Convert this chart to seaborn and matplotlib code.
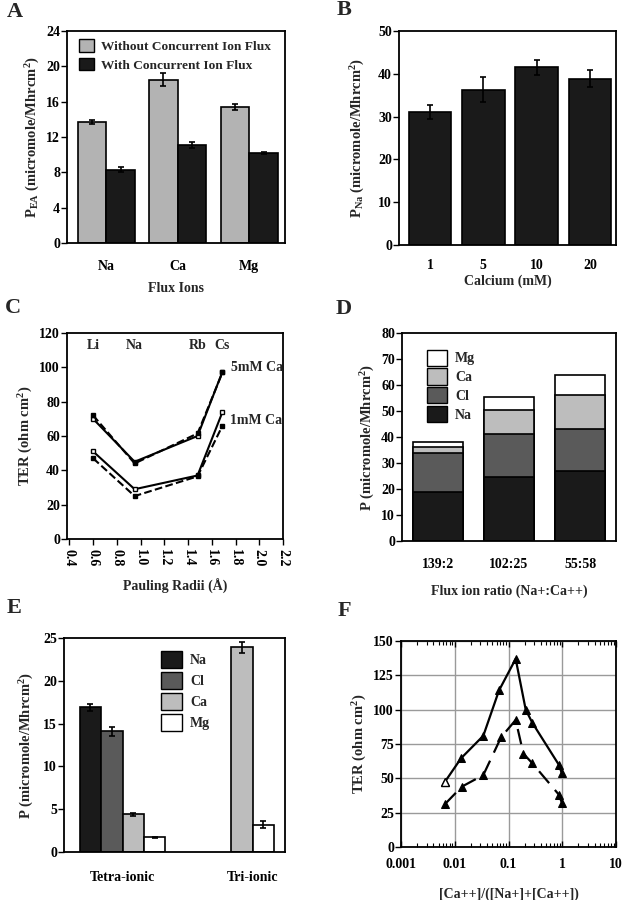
import numpy as np
import pandas as pd
import matplotlib
matplotlib.use('Agg')
import matplotlib.pyplot as plt
import seaborn as sns
from matplotlib.patches import Patch
from matplotlib.ticker import LogLocator, NullFormatter, FixedLocator, FixedFormatter

# ---------------- data ----------------
# Panel A
a_ions = ['Na', 'Ca', 'Mg']
a_conditions = ['Without Concurrent Ion Flux', 'With Concurrent Ion Flux']
a_without = [13.7, 18.5, 15.4]
a_without_err = [0.2, 0.7, 0.3]
a_with = [8.3, 11.1, 10.2]
a_with_err = [0.3, 0.3, 0.15]

# Panel B
b_calcium = ['1', '5', '10', '20']
b_pna = [31.0, 36.3, 41.5, 38.8]
b_err = [1.6, 2.9, 1.8, 2.0]

# Panel C
c_radii = [0.60, 0.95, 1.48, 1.69]
c_ions = ['Li', 'Na', 'Rb', 'Cs']
c_5mm_solid = [70.0, 45.0, 60.0, 97.5]
c_5mm_dashed = [72.0, 44.0, 61.5, 97.0]
c_1mm_solid = [51.0, 29.0, 37.0, 74.0]
c_1mm_dashed = [47.0, 25.0, 36.5, 66.0]

# Panel D
d_ratios = ['139:2', '102:25', '55:58']
d_na = [19.0, 24.5, 26.8]
d_cl = [14.8, 16.7, 16.2]
d_ca = [2.4, 9.3, 13.0]
d_mg = [1.8, 5.0, 7.8]

# Panel E
e_groups = ['Tetra-ionic', 'Tri-ionic']
e_tetra_ions = ['Na', 'Cl', 'Ca', 'Mg']
e_tetra = [16.9, 14.1, 4.4, 1.7]
e_tetra_err = [0.4, 0.5, 0.2, 0.1]
e_tri_ions = ['Ca', 'Mg']
e_tri = [23.9, 3.2]
e_tri_err = [0.6, 0.4]

# Panel F
f_ratio_solid = [0.0066, 0.0131, 0.034, 0.0666, 0.136, 0.209, 0.277, 0.87, 0.98]
f_ter_solid = [47.6, 64.6, 81.0, 114.0, 137.0, 100.0, 90.5, 59.7, 53.7]
f_ratio_dashed = [0.0066, 0.0135, 0.034, 0.073, 0.136, 0.189, 0.277, 0.87, 0.98]
f_ter_dashed = [31.3, 43.9, 52.4, 80.0, 92.5, 68.0, 61.0, 38.0, 32.3]

ion_colors = {'Na': '#1a1a1a', 'Cl': '#5a5a5a', 'Ca': '#bdbdbd', 'Mg': '#ffffff'}

# ---------------- style ----------------
sns.set_style('ticks')
plt.rcParams['font.family'] = ['Liberation Serif', 'DejaVu Serif']
plt.rcParams['font.weight'] = 'bold'
plt.rcParams['axes.labelweight'] = 'bold'
plt.rcParams['mathtext.fontset'] = 'custom'
plt.rcParams['mathtext.rm'] = 'Liberation Serif:bold'
plt.rcParams['mathtext.default'] = 'regular'
plt.rcParams['axes.linewidth'] = 1.3
plt.rcParams['axes.edgecolor'] = 'black'
plt.rcParams['xtick.color'] = 'black'
plt.rcParams['ytick.color'] = 'black'

FS = 10          # tick labels
LFS = 10         # axis labels / annotations
YFS = 10.5       # y-axis labels
LEG = 9.6        # legend text
fig = plt.figure(figsize=(6.24, 9), dpi=100)


def add_axes(l, t, r, b):
    return fig.add_axes([l / 624, 1 - b / 900, (r - l) / 624, (b - t) / 900])


def style(ax, xticks=False, xpad=9):
    for s in ax.spines.values():
        s.set_visible(True)
        s.set_linewidth(1.3)
        s.set_color('black')
    ax.tick_params(axis='y', direction='out', length=4, width=1, labelsize=FS, pad=1)
    if xticks:
        ax.tick_params(axis='x', direction='out', length=4, width=1, labelsize=FS)
    else:
        ax.tick_params(axis='x', length=0, labelsize=FS, pad=xpad)
    for lab in ax.get_xticklabels() + ax.get_yticklabels():
        lab.set_fontweight('bold')


def letter(x, y, s):
    fig.text(x / 624, 1 - y / 900, s, fontsize=16, fontweight='bold', va='baseline', ha='left')


err_kw = dict(fmt='none', ecolor='black', elinewidth=1.2, capsize=2.5, capthick=1.2)

# ---------------- A ----------------
axA = add_axes(67, 31, 285, 243)
df_a = pd.DataFrame({'ion': a_ions * 2,
                     'cond': [a_conditions[0]] * 3 + [a_conditions[1]] * 3,
                     'val': a_without + a_with})
sns.barplot(data=df_a, x='ion', y='val', hue='cond', hue_order=a_conditions,
            palette=['#b3b3b3', '#1a1a1a'], saturation=1, edgecolor='black',
            linewidth=1.2, width=0.8, errorbar=None, legend=False, ax=axA)
for cont, errs in zip(axA.containers, [a_without_err, a_with_err]):
    for bar, e in zip(cont, errs):
        axA.errorbar(bar.get_x() + bar.get_width() / 2, bar.get_height(), yerr=e, **err_kw)
axA.set_ylim(0, 24)
axA.set_yticks(np.arange(0, 25, 4))
axA.set_xlim(-0.55, 2.5)
axA.set_xlabel('Flux Ions', fontsize=LFS, labelpad=7)
axA.set_ylabel(r'P$_{\mathregular{EA}}$ (micromole/Mhrcm$^{\mathregular{2}}$)', fontsize=YFS, labelpad=3)
style(axA, xpad=12)
axA.legend(handles=[Patch(facecolor='#b3b3b3', edgecolor='black', label=a_conditions[0]),
                    Patch(facecolor='#1a1a1a', edgecolor='black', label=a_conditions[1])],
           loc='upper left', bbox_to_anchor=(0.02, 1.0), frameon=False,
           prop={'family': 'Liberation Serif', 'weight': 'bold', 'size': LEG},
           handlelength=1.1, handleheight=1.1, handletextpad=0.5, labelspacing=0.35,
           borderaxespad=0.2)
letter(7, 17, 'A')

# ---------------- B ----------------
axB = add_axes(399, 31, 616, 245)
sns.barplot(x=b_calcium, y=b_pna, color='#1a1a1a', saturation=1, edgecolor='black',
            linewidth=1.2, width=0.8, errorbar=None, ax=axB)
for bar, e in zip(axB.containers[0], b_err):
    axB.errorbar(bar.get_x() + bar.get_width() / 2, bar.get_height(), yerr=e, **err_kw)
axB.set_ylim(0, 50)
axB.set_yticks(np.arange(0, 51, 10))
axB.set_xlim(-0.58, 3.49)
axB.set_xlabel('Calcium (mM)', fontsize=LFS, labelpad=2)
axB.set_ylabel(r'P$_{\mathregular{Na}}$ (micromole/Mhrcm$^{\mathregular{2}}$)', fontsize=YFS, labelpad=8)
style(axB, xpad=10)
letter(337, 15, 'B')

# ---------------- C ----------------
axC = add_axes(67, 333, 283, 539)
series_c = [(c_5mm_solid, '-', 'white'), (c_5mm_dashed, '--', 'black'),
            (c_1mm_solid, '-', 'white'), (c_1mm_dashed, '--', 'black')]
for vals, ls, mfc in series_c:
    sns.lineplot(x=c_radii, y=vals, color='black', linestyle=ls, linewidth=1.5,
                 marker='s', markersize=3.5, markerfacecolor=mfc, markeredgecolor='black',
                 markeredgewidth=1, ax=axC)
axC.set_xlim(0.38, 2.2)
axC.set_ylim(0, 120)
axC.set_yticks(np.arange(0, 121, 20))
axC.set_xticks(np.arange(0.4, 2.21, 0.2))
axC.set_xticklabels([f'{v:.1f}' for v in np.arange(0.4, 2.21, 0.2)], rotation=-90)
for x, s in zip(c_radii, c_ions):
    axC.text(x, 113, s, ha='center', va='center', fontsize=LFS, fontweight='bold')
axC.text(1.76, 100, '5mM Ca', ha='left', va='center', fontsize=LFS, fontweight='bold')
axC.text(1.75, 69, '1mM Ca', ha='left', va='center', fontsize=LFS, fontweight='bold')
axC.set_xlabel('Pauling Radii (Å)', fontsize=LFS, labelpad=9)
axC.set_ylabel(r'TER (ohm cm$^{\mathregular{2}}$)', fontsize=YFS, labelpad=3)
style(axC, xticks=True)
letter(5, 313, 'C')

# ---------------- D ----------------
axD = add_axes(402, 333, 616, 541)
na = np.array(d_na)
cl = np.array(d_cl)
ca = np.array(d_ca)
mg = np.array(d_mg)
layers = [(na + cl + ca + mg, 'Mg'), (na + cl + ca, 'Ca'), (na + cl, 'Cl'), (na, 'Na')]
for vals, ion in layers:
    sns.barplot(x=d_ratios, y=vals, color=ion_colors[ion], saturation=1, edgecolor='black',
                linewidth=1.2, width=0.7, errorbar=None, ax=axD)
axD.set_ylim(0, 80)
axD.set_yticks(np.arange(0, 81, 10))
axD.set_xlim(-0.5, 2.5)
axD.set_xlabel('Flux ion ratio (Na+:Ca++)', fontsize=LFS, labelpad=10)
axD.set_ylabel(r'P (micromole/Mhrcm$^{\mathregular{2}}$)', fontsize=YFS, labelpad=3)
style(axD, xpad=12)
axD.legend(handles=[Patch(facecolor=ion_colors[i], edgecolor='black', label=i) for i in ['Mg', 'Ca', 'Cl', 'Na']],
           loc='upper left', bbox_to_anchor=(0.08, 0.96), frameon=False,
           prop={'family': 'Liberation Serif', 'weight': 'bold', 'size': 10},
           handlelength=1.4, handleheight=1.4, handletextpad=0.6, labelspacing=0.2,
           borderaxespad=0.2)
letter(336, 314, 'D')

# ---------------- E ----------------
axE = add_axes(64, 638, 285, 852)
bw = 0.165
tetra_pos = [0 + (k - 1.5) * bw for k in range(len(e_tetra))]
tri_pos = [1 + (k - 0.5) * bw for k in range(len(e_tri))]
axE.bar(tetra_pos, e_tetra, width=bw, color=[ion_colors[i] for i in e_tetra_ions],
        edgecolor='black', linewidth=1.2)
axE.bar(tri_pos, e_tri, width=bw, color=[ion_colors[i] for i in e_tri_ions],
        edgecolor='black', linewidth=1.2)
axE.errorbar(tetra_pos, e_tetra, yerr=e_tetra_err, **err_kw)
axE.errorbar(tri_pos, e_tri, yerr=e_tri_err, **err_kw)
axE.set_xticks([0, 1])
axE.set_xticklabels(e_groups)
axE.set_xlim(-0.45, 1.25)
axE.set_ylim(0, 25)
axE.set_yticks(np.arange(0, 26, 5))
axE.set_ylabel(r'P (micromole/Mhrcm$^{\mathregular{2}}$)', fontsize=YFS, labelpad=5)
style(axE, xpad=14)
axE.legend(handles=[Patch(facecolor=ion_colors[i], edgecolor='black', label=i) for i in ['Na', 'Cl', 'Ca', 'Mg']],
           loc='upper left', bbox_to_anchor=(0.40, 0.98), frameon=False,
           prop={'family': 'Liberation Serif', 'weight': 'bold', 'size': 10},
           handlelength=1.5, handleheight=1.5, handletextpad=0.6, labelspacing=0.3,
           borderaxespad=0.2)
letter(7, 613, 'E')

# ---------------- F ----------------
axF = add_axes(401, 641, 616, 847)
axF.set_xscale('log')
sns.lineplot(x=f_ratio_solid, y=f_ter_solid, color='black', linewidth=1.6, marker='^',
             markersize=6, markerfacecolor='black', markeredgecolor='black', ax=axF)
sns.lineplot(x=f_ratio_dashed, y=f_ter_dashed, color='black', linewidth=1.6, marker='^',
             markersize=6, markerfacecolor='black', markeredgecolor='black',
             dashes=(7, 4), ax=axF)
axF.plot(f_ratio_solid[:1], f_ter_solid[:1], linestyle='none', marker='^', markersize=6,
         markerfacecolor='white', markeredgecolor='black', zorder=5)
axF.set_xlim(1e-3, 10)
axF.set_ylim(0, 150)
axF.set_yticks(np.arange(0, 151, 25))
axF.xaxis.set_major_locator(FixedLocator([0.001, 0.01, 0.1, 1, 10]))
axF.xaxis.set_major_formatter(FixedFormatter(['0.001', '0.01', '0.1', '1', '10']))
axF.xaxis.set_minor_locator(LogLocator(base=10, subs=np.arange(2, 10), numticks=20))
axF.xaxis.set_minor_formatter(NullFormatter())
axF.grid(True, which='major', color='#9a9a9a', linewidth=1.0)
axF.set_axisbelow(True)
axF.set_xlabel('[Ca++]/([Na+]+[Ca++])', fontsize=LFS, labelpad=12)
axF.set_ylabel(r'TER (ohm cm$^{\mathregular{2}}$)', fontsize=YFS, labelpad=3)
style(axF)
axF.tick_params(axis='x', which='major', direction='in', length=4, width=1, top=True, bottom=True, labelsize=FS, pad=8)
axF.tick_params(axis='x', which='minor', direction='in', length=3, width=0.8, top=True, bottom=True)
for lab in axF.get_xticklabels():
    lab.set_fontweight('bold')
letter(338, 616, 'F')

fig.savefig('out.png', dpi=100, facecolor='white')
